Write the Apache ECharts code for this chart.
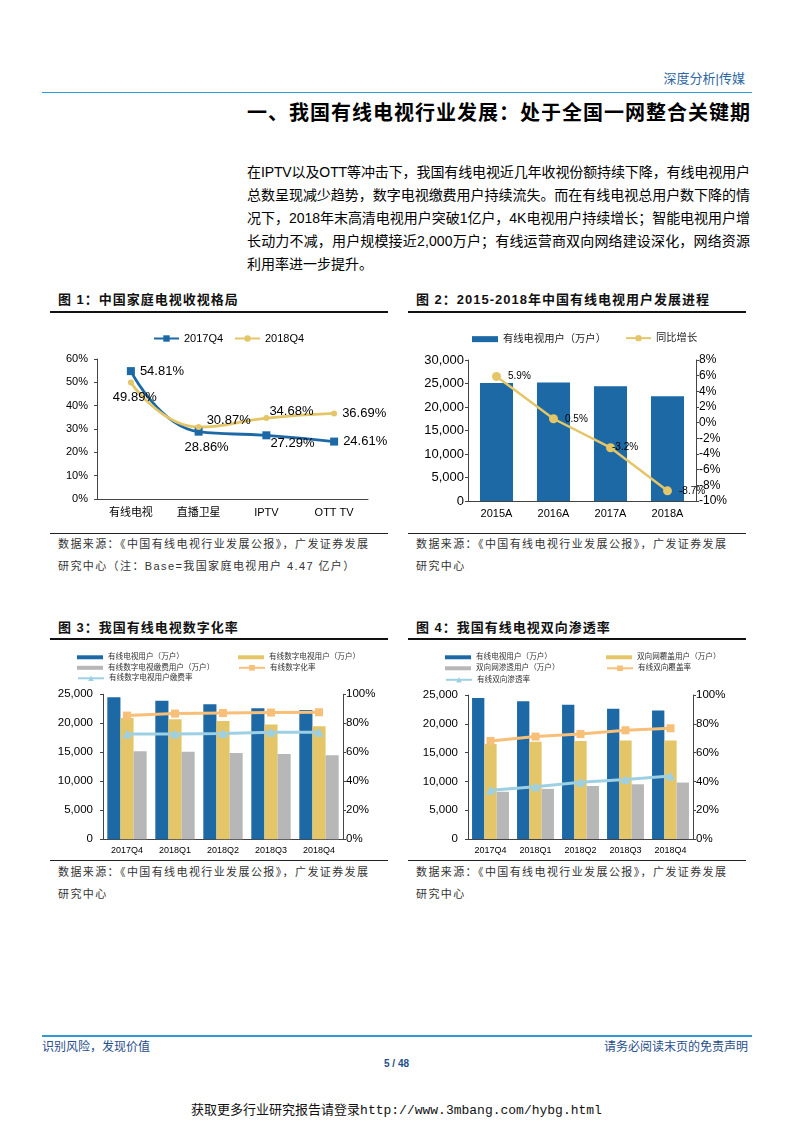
<!DOCTYPE html>
<html>
<head>
<meta charset="utf-8">
<script src="https://cdn.jsdelivr.net/npm/echarts@6/dist/echarts.min.js"></script>
<style>
  html,body{margin:0;padding:0;background:#fff;}
  body{width:793px;height:1122px;position:relative;overflow:hidden;font-family:'Liberation Sans','Noto Sans CJK SC',sans-serif;color:#000;}
  .abs{position:absolute;white-space:nowrap;}
  .figt{position:absolute;font-size:13px;font-weight:bold;letter-spacing:1px;line-height:18px;white-space:nowrap;color:#111;}
  .rule{position:absolute;height:1.5px;background:#111;}
  .thin{position:absolute;height:1px;background:#222;}
  .src{position:absolute;font-size:11px;letter-spacing:1.4px;line-height:22px;color:#333;white-space:nowrap;}
  .para div{height:23px;line-height:23px;white-space:nowrap;}
  .chart{position:absolute;}
</style>
</head>
<body>
<script>
// ===== Data =====
const fig1Categories = ['有线电视', '直播卫星', 'IPTV', 'OTT TV'];
const fig1Share2017Q4 = [54.81, 28.86, 27.29, 24.61];
const fig1Share2018Q4 = [49.89, 30.87, 34.68, 36.69];

const fig2Years = ['2015A', '2016A', '2017A', '2018A'];
const fig2CableUsers = [25100, 25200, 24400, 22300];
const fig2Growth = [5.9, 0.5, -3.2, -8.7];

const quarters = ['2017Q4', '2018Q1', '2018Q2', '2018Q3', '2018Q4'];
const cableUsers = [24500, 23900, 23300, 22600, 22300];
const digitalUsers = [20900, 20700, 20400, 19800, 19500];
const digitalPaidUsers = [15200, 15100, 14900, 14700, 14500];
const digitalRate = [85.3, 86.7, 87.1, 87.4, 87.6];
const digitalPaidRate = [72.6, 72.6, 72.9, 73.8, 73.8];

const cableUsers4 = [24500, 23900, 23300, 22600, 22300];
const twoWayCoverUsers = [16500, 16900, 17000, 17100, 17100];
const twoWayPenUsers = [8200, 8700, 9200, 9500, 9800];
const twoWayCoverRate = [68.1, 71.1, 72.9, 75.5, 76.9];
const twoWayPenRate = [33.8, 36.3, 39.4, 41.4, 43.8];
</script>

<!-- Header -->
<div class="abs" style="right:48px;top:70px;font-size:13px;line-height:18px;color:#2E67A3;">深度分析|传媒</div>
<div class="abs" style="left:42px;top:91.5px;width:710px;height:1.5px;background:#2D9BD8;"></div>
<div class="abs" style="right:42px;top:101px;font-size:20px;font-weight:bold;letter-spacing:1px;line-height:24px;">一、我国有线电视行业发展：处于全国一网整合关键期</div>

<div id="para" class="abs para" style="left:247px;top:160.5px;width:503px;font-size:14px;">
  <div class="fit">在IPTV以及OTT等冲击下，我国有线电视近几年收视份额持续下降，有线电视用户</div>
  <div class="fit">总数呈现减少趋势，数字电视缴费用户持续流失。而在有线电视总用户数下降的情</div>
  <div class="fit">况下，2018年末高清电视用户突破1亿户，4K电视用户持续增长；智能电视用户增</div>
  <div class="fit">长动力不减，用户规模接近2,000万户；有线运营商双向网络建设深化，网络资源</div>
  <div>利用率进一步提升。</div>
</div>

<!-- Figure titles -->
<div class="figt" style="left:58px;top:291px;">图 1：中国家庭电视收视格局</div>
<div class="rule" style="left:50px;top:311px;width:338px;"></div>
<div class="figt" style="left:416px;top:291px;">图 2：2015-2018年中国有线电视用户发展进程</div>
<div class="rule" style="left:408px;top:311px;width:338px;"></div>

<div class="thin" style="left:50px;top:532.5px;width:338px;"></div>
<div class="src" style="left:58px;top:533px;">数据来源：《中国有线电视行业发展公报》，广发证券发展<br>研究中心（注：Base=我国家庭电视用户 4.47 亿户）</div>
<div class="thin" style="left:408px;top:532.5px;width:338px;"></div>
<div class="src" style="left:416px;top:533px;">数据来源：《中国有线电视行业发展公报》，广发证券发展<br>研究中心</div>

<div class="figt" style="left:58px;top:619px;">图 3：我国有线电视数字化率</div>
<div class="rule" style="left:50px;top:638px;width:338px;"></div>
<div class="figt" style="left:416px;top:619px;">图 4：我国有线电视双向渗透率</div>
<div class="rule" style="left:408px;top:638px;width:338px;"></div>

<div class="thin" style="left:50px;top:859.5px;width:338px;"></div>
<div class="src" style="left:58px;top:860.5px;">数据来源：《中国有线电视行业发展公报》，广发证券发展<br>研究中心</div>
<div class="thin" style="left:408px;top:859.5px;width:338px;"></div>
<div class="src" style="left:416px;top:860.5px;">数据来源：《中国有线电视行业发展公报》，广发证券发展<br>研究中心</div>

<!-- Charts -->
<div id="c1" class="chart" style="left:40px;top:320px;width:355px;height:210px;"></div>
<div id="c2" class="chart" style="left:400px;top:320px;width:360px;height:210px;"></div>
<div id="c3" class="chart" style="left:40px;top:640px;width:360px;height:218px;"></div>
<div id="c4" class="chart" style="left:400px;top:640px;width:360px;height:218px;"></div>

<!-- Footer -->
<div class="abs" style="left:42px;top:1035px;width:710px;height:1.5px;background:#2D9BD8;"></div>
<div class="abs" style="left:42px;top:1039px;font-size:12px;line-height:16px;color:#1F4E8C;">识别风险，发现价值</div>
<div class="abs" style="right:45px;top:1039px;font-size:12px;line-height:16px;color:#1F4E8C;">请务必阅读末页的免责声明</div>
<div class="abs" style="left:0;width:793px;text-align:center;top:1057px;font-size:10px;font-weight:bold;line-height:14px;color:#1F4E8C;">5 / 48</div>
<div class="abs" style="left:0;width:793px;text-align:center;top:1102px;font-size:13px;line-height:18px;color:#111;font-family:'Liberation Mono','Noto Sans CJK SC',monospace;">获取更多行业研究报告请登录http://www.3mbang.com/hybg.html</div>

<script>
// fit justified paragraph lines to the column width
(function(){
  const W = 503;
  document.querySelectorAll('#para .fit').forEach(el=>{
    el.style.display='inline-block';
    const w = el.getBoundingClientRect().width;
    const n = [...el.textContent].length;
    el.style.letterSpacing = ((W - w) / (n - 1)) + 'px';
    el.style.display='block';
  });
})();

const FONT = "'Liberation Sans','Noto Sans CJK SC',sans-serif";
const BLUE = '#1C69A6', YELLOW = '#E4C669', GRAY = '#B7B7B7', ORANGE = '#F8BF78', LBLUE = '#9DD0E3';
const AX = '#444';
const thousands = v => v.toLocaleString('en-US');

// ===== Chart 1 =====
(function(){
  const ch = echarts.init(document.getElementById('c1'), null, {renderer:'canvas'});
  const lab17 = [
    {position:'right', offset:[0,0]},
    {position:'bottom', offset:[8,0]},
    {position:'right', offset:[-5,8]},
    {position:'right', offset:[0,0]}
  ];
  const lab18 = [
    {position:'bottom', offset:[4,0]},
    {position:'right', offset:[0,-7]},
    {position:'right', offset:[-5,-7]},
    {position:'right', offset:[0,0]}
  ];
  ch.setOption({
    animation:false,
    textStyle:{fontFamily:FONT},
    legend:[
      {data:['2017Q4'], left:108, top:8, itemWidth:25, itemHeight:8, itemGap:10, textStyle:{fontSize:11,color:'#000',fontFamily:FONT}},
      {data:['2018Q4'], left:189, top:8, itemWidth:25, itemHeight:8, textStyle:{fontSize:11,color:'#000',fontFamily:FONT}}
    ],
    grid:{left:57, top:39, width:271, height:140},
    xAxis:{type:'category', data:fig1Categories,
      axisLine:{lineStyle:{color:AX}}, axisTick:{length:3,lineStyle:{color:AX}},
      axisLabel:{fontSize:11,color:'#000',margin:8}},
    yAxis:{type:'value', min:0, max:60, interval:10, splitLine:{show:false},
      axisLine:{show:true,lineStyle:{color:AX}}, axisTick:{show:true,length:3,lineStyle:{color:AX}},
      axisLabel:{formatter:'{value}%',fontSize:11,color:'#000',margin:9}},
    series:[
      {name:'2017Q4', type:'line', smooth:true, symbol:'rect', symbolSize:8,
        lineStyle:{color:BLUE,width:2.8}, itemStyle:{color:BLUE},
        data:fig1Share2017Q4.map((v,i)=>({value:v,label:Object.assign({show:true,formatter:p=>p.value.toFixed(2)+'%',fontSize:13,color:'#000'},lab17[i])}))},
      {name:'2018Q4', type:'line', smooth:true, symbol:'circle', symbolSize:6,
        lineStyle:{color:YELLOW,width:2.8}, itemStyle:{color:YELLOW},
        data:fig1Share2018Q4.map((v,i)=>({value:v,label:Object.assign({show:true,formatter:p=>p.value.toFixed(2)+'%',fontSize:13,color:'#000'},lab18[i])}))}
    ]
  });
})();

// ===== Chart 2 =====
(function(){
  const ch = echarts.init(document.getElementById('c2'));
  const offs = [[2,0],[2,0],[-8,0],[2,0]];
  ch.setOption({
    animation:false,
    textStyle:{fontFamily:FONT},
    legend:[
      {data:[{name:'有线电视用户（万户）',icon:'rect'}], left:67, top:9, itemWidth:26, itemHeight:6, textStyle:{fontSize:10.3,color:'#222',fontFamily:FONT}},
      {data:['同比增长'], left:220, top:8, itemWidth:25, itemHeight:8, textStyle:{fontSize:10.3,color:'#222',fontFamily:FONT}}
    ],
    grid:{left:68, top:40, width:228, height:141},
    xAxis:{type:'category', data:fig2Years,
      axisLine:{lineStyle:{color:AX}}, axisTick:{length:3,lineStyle:{color:AX}},
      axisLabel:{fontSize:11,color:'#000',margin:7}},
    yAxis:[
      {type:'value', min:0, max:30000, interval:5000, splitLine:{show:false},
        axisLine:{show:true,lineStyle:{color:AX}}, axisTick:{show:true,length:3,lineStyle:{color:AX}},
        axisLabel:{formatter:thousands,fontSize:13,color:'#000',margin:4}},
      {type:'value', min:-10, max:8, interval:2, position:'right', splitLine:{show:false},
        axisLine:{show:true,lineStyle:{color:AX}}, axisTick:{show:true,length:3,lineStyle:{color:AX}},
        axisLabel:{formatter:'{value}%',fontSize:12,color:'#000',margin:3}}
    ],
    series:[
      {name:'有线电视用户（万户）', type:'bar', data:fig2CableUsers, barWidth:'58%', itemStyle:{color:BLUE}},
      {name:'同比增长', type:'line', yAxisIndex:1, symbol:'circle', symbolSize:9,
        lineStyle:{color:YELLOW,width:2.5}, itemStyle:{color:YELLOW},
        data:fig2Growth.map((v,i)=>({value:v,label:{show:true,position:'right',offset:offs[i],formatter:p=>p.value.toFixed(1)+'%',fontSize:10,color:'#000'}}))}
    ]
  });
})();

// ===== Charts 3 & 4 =====
function smallChart(id, gridLeft, gridWidth, gridTop, gridH, legendPos, names, bars, lines){
  const ch = echarts.init(document.getElementById(id));
  const colors = [BLUE, YELLOW, GRAY];
  const lcolors = [ORANGE, LBLUE];
  const lsym = ['rect','triangle'];
  const legends = names.map((n,i)=>({
    data:[i<3?{name:n,icon:'rect'}:{name:n}],
    left:legendPos[i][0], top:legendPos[i][1],
    itemWidth:26, itemHeight:i<3?4:7,
    textStyle:{fontSize:7.6,color:'#333',fontFamily:FONT}
  }));
  const series = bars.map((d,i)=>({name:names[i], type:'bar', data:d, barGap:'0%', barCategoryGap:'18%', itemStyle:{color:colors[i]}}))
    .concat(lines.map((d,i)=>({name:names[3+i], type:'line', yAxisIndex:1, data:d, symbol:lsym[i], symbolSize:i===0?8:9,
      lineStyle:{color:lcolors[i],width:3}, itemStyle:{color:lcolors[i]}})));
  ch.setOption({
    animation:false,
    textStyle:{fontFamily:FONT},
    legend:legends,
    grid:{left:gridLeft, top:gridTop, width:gridWidth, height:gridH},
    xAxis:{type:'category', data:quarters,
      axisLine:{lineStyle:{color:AX}}, axisTick:{length:3,lineStyle:{color:AX}},
      axisLabel:{fontSize:9,color:'#000',margin:7}},
    yAxis:[
      {type:'value', min:0, max:25000, interval:5000, splitLine:{show:false},
        axisLine:{show:true,lineStyle:{color:AX}}, axisTick:{show:true,length:3,lineStyle:{color:AX}},
        axisLabel:{formatter:thousands,fontSize:11.5,color:'#000',margin:10}},
      {type:'value', min:0, max:100, interval:20, position:'right', splitLine:{show:false},
        axisLine:{show:true,lineStyle:{color:AX}}, axisTick:{show:true,length:3,lineStyle:{color:AX}},
        axisLabel:{formatter:'{value}%',fontSize:11.5,color:'#000',margin:3}}
    ],
    series:series
  });
}

smallChart('c3', 63, 240, 54.3, 145,
  [[32,8.5],[193,8.5],[32,19],[193,19],[32,29.5]],
  ['有线电视用户（万户）','有线数字电视用户（万户）','有线数字电视缴费用户（万户）','有线数字化率','有线数字电视用户缴费率'],
  [cableUsers, digitalUsers, digitalPaidUsers], [digitalRate, digitalPaidRate]);

smallChart('c4', 68, 225, 55, 144,
  [[40,8.5],[201,8.5],[40,19.5],[201,19.5],[40,31]],
  ['有线电视用户（万户）','双向网覆盖用户（万户）','双向网渗透用户（万户）','有线双向覆盖率','有线双向渗透率'],
  [cableUsers4, twoWayCoverUsers, twoWayPenUsers], [twoWayCoverRate, twoWayPenRate]);
</script>
</body>
</html>
